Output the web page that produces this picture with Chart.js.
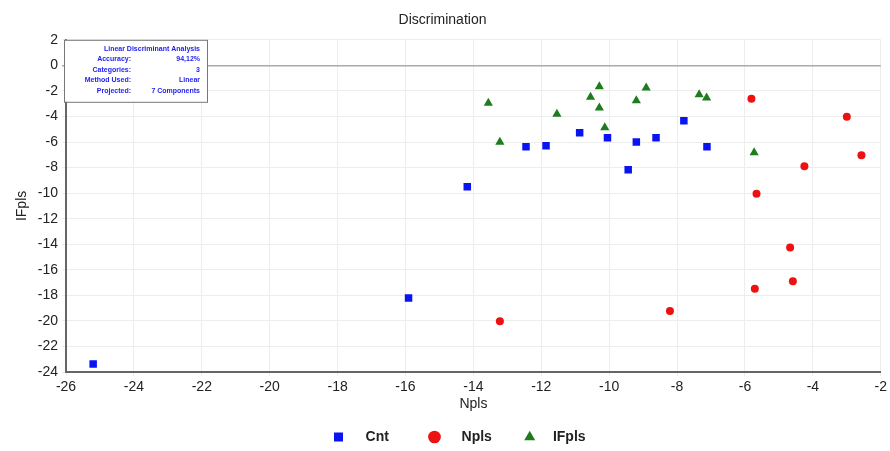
<!DOCTYPE html>
<html>
<head>
<meta charset="utf-8">
<script src="https://cdn.jsdelivr.net/npm/chart.js@4"></script>
<style>
  html, body { margin: 0; padding: 0; background: #fff; }
  #wrap { width: 890px; height: 451px; }
</style>
</head>
<body>
<div id="wrap"><canvas id="grafico"></canvas></div>
<script>
// valores
const cntX = [-25.2, -15.91, -14.18, -12.45, -11.86, -10.87, -10.05, -9.2, -9.44, -8.62, -7.8, -7.12];
const cntY = [-23.37, -18.2, -9.5, -6.38, -6.3, -5.28, -5.67, -5.99, -8.18, -5.67, -4.34, -6.38];

const nplsX = [-5.81, -3.0, -2.57, -4.25, -5.66, -4.67, -4.59, -5.71, -13.22, -8.21];
const nplsY = [-2.62, -4.03, -7.03, -7.89, -10.04, -14.26, -16.9, -17.48, -20.03, -19.22];

const ifplsX = [-13.56, -13.22, -11.54, -10.55, -10.29, -10.29, -10.13, -9.2, -8.91, -7.35, -7.13, -5.73];
const ifplsY = [-2.96, -6.01, -3.82, -2.49, -1.66, -3.32, -4.87, -2.75, -1.76, -2.28, -2.54, -6.83];

const infoLabels = ['Accuracy:', 'Categories:', 'Method Used:', 'Projected:'];
const infoValues = ['94,12%', '3', 'Linear', '7 Components'];

const pares = (xs, ys) => xs.map((x, i) => ({ x: x, y: ys[i] }));

// cuadro de info arriba a la izquierda
const cuadroInfo = {
    id: 'cuadroInfo',
    afterDatasetsDraw(chart) {
        const ctx = chart.ctx;
        const x0 = chart.chartArea.left - 2, y0 = chart.chartArea.top;
        ctx.save();
        ctx.fillStyle = '#fff';
        ctx.fillRect(x0, y0, 143, 62);
        ctx.strokeStyle = '#777';
        ctx.lineWidth = 1;
        ctx.strokeRect(x0 + 0.5, y0 + 0.5, 143, 62);
        ctx.fillStyle = '#1c1cf0';
        ctx.font = 'bold 7px "Liberation Sans", Arial, sans-serif';
        ctx.textBaseline = 'middle';
        ctx.textAlign = 'right';
        ctx.fillText('Linear Discriminant Analysis', x0 + 136, y0 + 9);
        infoLabels.forEach((t, i) => {
            const yy = y0 + 19.5 + i * 10.5;
            ctx.fillText(t, x0 + 67, yy);
            ctx.fillText(infoValues[i], x0 + 136, yy);
        });
        ctx.restore();
    }
};

const fuente = '"Liberation Sans", Arial, sans-serif';
// espacios para separar las entradas de la leyenda
const antes = ['    ', '    ', '   '];
const despues = ['        ', '      ', '       '];

new Chart(document.getElementById('grafico'), {
    type: 'scatter',
    data: {
        datasets: [
            {
                label: 'Cnt',
                data: pares(cntX, cntY),
                pointStyle: 'rect',
                pointRadius: 5.3,
                backgroundColor: '#0a14f0',
                borderColor: '#0a14f0',
                borderWidth: 0
            },
            {
                label: 'Npls',
                data: pares(nplsX, nplsY),
                pointStyle: 'circle',
                pointRadius: 4,
                backgroundColor: '#ee1111',
                borderColor: '#ee1111',
                borderWidth: 0
            },
            {
                label: 'IFpls',
                data: pares(ifplsX, ifplsY),
                pointStyle: 'triangle',
                pointRadius: 5.3,
                backgroundColor: '#1d7d1d',
                borderColor: '#1d7d1d',
                borderWidth: 0
            }
        ]
    },
    options: {
        responsive: true,
        maintainAspectRatio: false,
        animation: false,
        layout: { padding: { left: 0, right: 5, top: 0, bottom: -3 } },
        plugins: {
            title: {
                display: true,
                text: 'Discrimination',
                color: '#222',
                font: { family: fuente, size: 14, weight: 'normal' },
                padding: { top: 12, bottom: 11 }
            },
            legend: {
                position: 'bottom',
                fullSize: false,
                labels: {
                    usePointStyle: true,
                    boxWidth: 9,
                    boxHeight: 9,
                    padding: 10,
                    color: '#222',
                    font: { family: fuente, size: 14, weight: 'bold' },
                    generateLabels(chart) {
                        const base = Chart.defaults.plugins.legend.labels.generateLabels(chart);
                        base.forEach((it, i) => { it.text = antes[i] + it.text + despues[i]; });
                        return base;
                    }
                }
            },
            tooltip: { enabled: false }
        },
        scales: {
            x: {
                min: -26,
                max: -2,
                ticks: { stepSize: 2, color: '#222', font: { family: fuente, size: 14 }, padding: 3 },
                grid: { color: '#ededed', tickLength: 4 },
                border: { color: '#666', width: 2 },
                title: { display: true, text: 'Npls', color: '#222', font: { family: fuente, size: 14 }, padding: { top: 0, bottom: 7 } },
                afterFit(s) { s.height = 48; }
            },
            y: {
                min: -24,
                max: 2,
                ticks: { stepSize: 2, color: '#222', font: { family: fuente, size: 14 }, padding: 4 },
                grid: {
                    color: c => c.tick && c.tick.value === 0 ? '#aaa' : '#ededed',
                    lineWidth: c => c.tick && c.tick.value === 0 ? 1.5 : 1,
                    tickLength: 4
                },
                border: { color: '#666', width: 2 },
                title: { display: true, text: 'IFpls', color: '#222', font: { family: fuente, size: 14 }, padding: { top: 14, bottom: 0 } },
                afterFit(s) { s.width = 66; }
            }
        }
    },
    plugins: [cuadroInfo]
});
</script>
</body>
</html>
